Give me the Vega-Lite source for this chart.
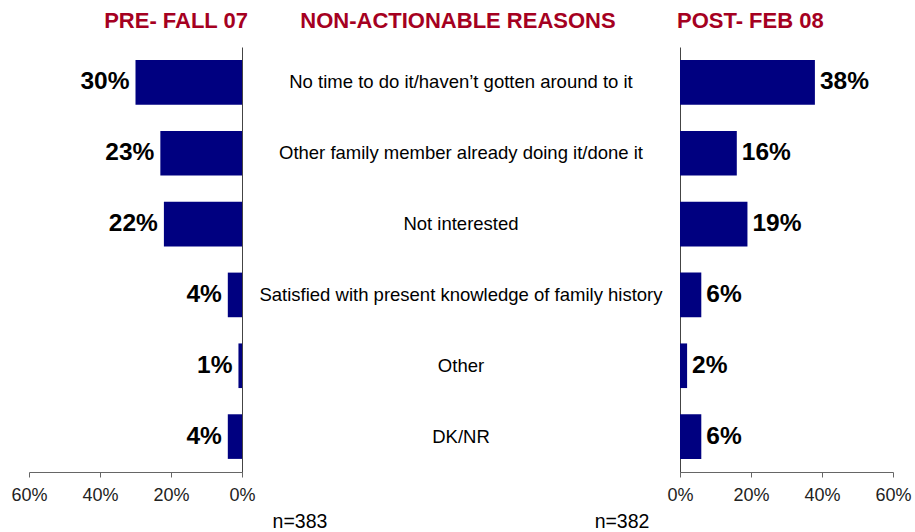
{
  "$schema": "https://vega.github.io/schema/vega-lite/v6.json",
  "background": "white",
  "padding": {"left": 10, "top": 10, "right": 5, "bottom": 5},
  "spacing": 0,
  "bounds": "flush",
  "datasets": {
    "reasons": [
      {"reason": "No time to do it/haven\u2019t gotten around to it", "pre": 0.30, "post": 0.38},
      {"reason": "Other family member already doing it/done it", "pre": 0.23, "post": 0.16},
      {"reason": "Not interested", "pre": 0.22, "post": 0.19},
      {"reason": "Satisfied with present knowledge of family history", "pre": 0.04, "post": 0.06},
      {"reason": "Other", "pre": 0.01, "post": 0.02},
      {"reason": "DK/NR", "pre": 0.04, "post": 0.06}
    ],
    "notes": [
      {"note": "n=383"},
      {"note": "n=382"}
    ]
  },
  "config": {
    "view": {"stroke": null},
    "font": "Liberation Sans",
    "title": {"font": "Liberation Sans", "fontSize": 22, "fontWeight": "bold", "color": "#A50021", "offset": 14, "frame": "group"},
    "axis": {"labelFont": "Liberation Sans", "labelFontSize": 18, "labelColor": "#222", "domainColor": "#666", "tickColor": "#666", "grid": false, "title": null, "labelFlush": false, "labelOverlap": false}
  },
  "hconcat": [
    {
      "width": 213,
      "height": 425,
      "title": {"text": "PRE- FALL 07", "anchor": "end", "dx": 6},
      "data": {"name": "reasons"},
      "encoding": {
        "y": {"field": "reason", "type": "nominal", "sort": null,
              "scale": {"paddingInner": 0.37, "paddingOuter": 0.185},
              "axis": {"orient": "right", "labels": false, "ticks": false, "domainColor": "#444"}},
        "x": {"field": "pre", "type": "quantitative",
              "scale": {"domain": [0, 0.6], "reverse": true, "nice": false},
              "axis": {"values": [0, 0.2, 0.4, 0.6], "format": ".0%", "tickSize": 5, "labelPadding": 9}}
      },
      "layer": [
        {"mark": {"type": "bar", "color": "#000080"}},
        {"mark": {"type": "text", "align": "right", "dx": -6, "fontSize": 24.5, "fontWeight": "bold", "color": "#000"},
         "encoding": {"text": {"field": "pre", "type": "quantitative", "format": ".0%"}}}
      ]
    },
    {
      "width": 438,
      "height": 425,
      "title": {"text": "NON-ACTIONABLE REASONS", "anchor": "middle", "dx": -3},
      "layer": [
        {
          "data": {"name": "reasons"},
          "mark": {"type": "text", "fontSize": 18.5, "color": "#000"},
          "encoding": {
            "y": {"field": "reason", "type": "nominal", "sort": null,
                  "scale": {"paddingInner": 0.37, "paddingOuter": 0.185}, "axis": null},
            "text": {"field": "reason"}
          }
        },
        {
          "data": {"name": "notes"},
          "mark": {"type": "text", "fontSize": 19.5, "color": "#000", "baseline": "middle", "dy": 50},
          "encoding": {
            "x": {"field": "note", "type": "nominal", "sort": null,
                  "scale": {"type": "point", "padding": 0.18}, "axis": null},
            "y": {"value": {"expr": "height"}},
            "text": {"field": "note"}
          }
        }
      ]
    },
    {
      "width": 213,
      "height": 425,
      "title": {"text": "POST- FEB 08", "anchor": "start", "dx": -3},
      "data": {"name": "reasons"},
      "encoding": {
        "y": {"field": "reason", "type": "nominal", "sort": null,
              "scale": {"paddingInner": 0.37, "paddingOuter": 0.185},
              "axis": {"orient": "left", "labels": false, "ticks": false, "domainColor": "#444"}},
        "x": {"field": "post", "type": "quantitative",
              "scale": {"domain": [0, 0.6], "nice": false},
              "axis": {"values": [0, 0.2, 0.4, 0.6], "format": ".0%", "tickSize": 5, "labelPadding": 9}}
      },
      "layer": [
        {"mark": {"type": "bar", "color": "#000080"}},
        {"mark": {"type": "text", "align": "left", "dx": 5, "fontSize": 24.5, "fontWeight": "bold", "color": "#000"},
         "encoding": {"text": {"field": "post", "type": "quantitative", "format": ".0%"}}}
      ]
    }
  ]
}
